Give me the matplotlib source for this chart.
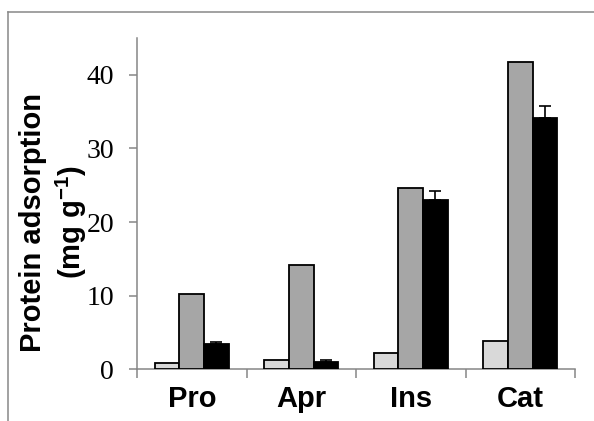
import numpy as np
import matplotlib.pyplot as plt
from matplotlib.lines import Line2D

plt.rcParams['mathtext.fontset'] = 'custom'
plt.rcParams['mathtext.bf'] = 'Liberation Sans:bold'
plt.rcParams['mathtext.rm'] = 'Liberation Sans:bold'
plt.rcParams['mathtext.default'] = 'bf'

proteins = ['Pro', 'Apr', 'Ins', 'Cat']
light = [0.9, 1.25, 2.2, 3.85]
gray = [10.2, 14.2, 24.6, 41.7]
black = [3.45, 1.05, 23.0, 34.1]
black_err = [0.2, 0.2, 1.2, 1.6]

axis_col = '#868686'

fig = plt.figure(figsize=(5.94, 4.21), dpi=100)
ax = fig.add_axes([137/594, 1 - 369.3/421, 438/594, 331.3/421])

x = np.arange(len(proteins))
w = 0.224
ax.bar(x - w, light, w, color='#d9d9d9', edgecolor='black', linewidth=1.3, zorder=3)
ax.bar(x, gray, w, color='#a6a6a6', edgecolor='black', linewidth=1.3, zorder=3)
ax.bar(x + w, black, w, color='black', edgecolor='black', linewidth=1.3, zorder=3,
       yerr=[np.zeros(len(black)), black_err], capsize=4,
       error_kw=dict(ecolor='black', elinewidth=1.2, capthick=1.2))

ax.set_xlim(-0.5, 3.5)
ax.set_ylim(0, 45)
ax.set_yticks([0, 10, 20, 30, 40])
ax.set_xticks(x)
ax.set_xticklabels(proteins, fontfamily='Liberation Sans', fontweight='bold', fontsize=21)
ax.set_xticks(np.arange(-0.5, 4, 1), minor=True)
ax.tick_params(axis='x', which='major', length=0, pad=11)
ax.tick_params(axis='x', which='minor', length=6.5, width=1.1, color=axis_col, direction='out')
ax.tick_params(axis='y', length=5.5, width=1.1, color=axis_col, direction='out', pad=11)
for lab in ax.get_yticklabels():
    lab.set_fontfamily('Liberation Serif')
    lab.set_fontsize(20)

for s in ['top', 'right']:
    ax.spines[s].set_visible(False)
for s in ['left', 'bottom']:
    ax.spines[s].set_color(axis_col)
    ax.spines[s].set_linewidth(1.1)

fig.text(54/594, 1 - 222/421, 'Protein adsorption\n(mg g$^{-1}$)', rotation=90,
         ha='center', va='center', multialignment='center',
         fontfamily='Liberation Sans', fontweight='bold', fontsize=21, linespacing=1.25)

# outer frame
fig.add_artist(Line2D([8/594, 8/594], [0, 1 - 12/421], color='#888888', lw=1.1,
                      transform=fig.transFigure))
fig.add_artist(Line2D([8/594, 1], [1 - 12/421, 1 - 12/421], color='#888888', lw=1.1,
                      transform=fig.transFigure))

fig.savefig('out.png', dpi=100)
